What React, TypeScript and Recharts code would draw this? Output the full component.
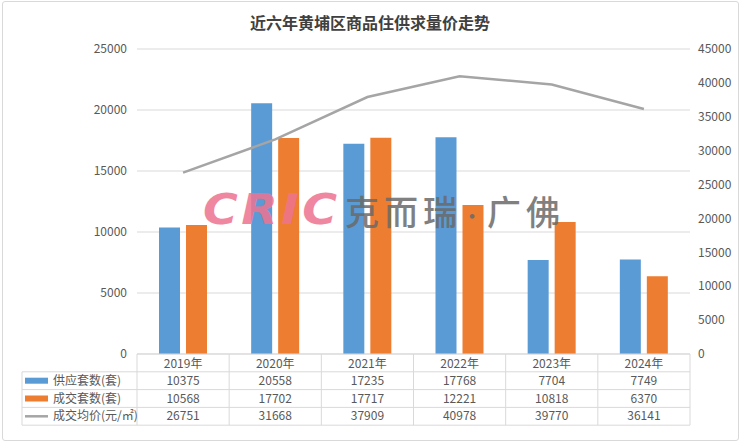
import { ComposedChart, Bar, Line, XAxis, YAxis, CartesianGrid } from "recharts";

const years = ["2019年", "2020年", "2021年", "2022年", "2023年", "2024年"];
const supply = [10375, 20558, 17235, 17768, 7704, 7749];
const deals = [10568, 17702, 17717, 12221, 10818, 6370];
const price = [26751, 31668, 37909, 40978, 39770, 36141];

const leftTicks = [0, 5000, 10000, 15000, 20000, 25000];
const rightTicks = [0, 5000, 10000, 15000, 20000, 25000, 30000, 35000, 40000, 45000];

const seriesNames = ["供应套数(套)", "成交套数(套)", "成交均价(元/㎡)"];
const seriesColors = ["#5B9BD5", "#ED7D31", "#A5A5A5"];

const W = 740;
const H = 442;
const PLOT_L = 137;
const PLOT_R = 690;
const PLOT_B = 354;
const ROW_H = 17.8;
const LEGEND_L = 22;
const FONT = "'Noto Sans CJK SC', 'Noto Sans', sans-serif";

const data = years.map((y, i) => ({
  year: y,
  supply: supply[i],
  deals: deals[i],
  price: price[i],
}));

function HeaderTick(props: any) {
  const { x, payload } = props;
  return (
    <text x={x} y={PLOT_B + 14} textAnchor="middle" fontSize={12} fill="#595959" fontFamily={FONT}>
      {payload.value}
    </text>
  );
}

function DataTable() {
  const colW = (PLOT_R - PLOT_L) / years.length;
  const rows = [supply, deals, price];
  const bottom = PLOT_B + ROW_H * 4;
  const lineColor = "#D9D9D9";
  return (
    <svg width={W} height={H} style={{ position: "absolute", left: 0, top: 0, pointerEvents: "none" }}>
      {/* column lines */}
      {years.map((_, i) => (
        <line key={"c" + i} x1={PLOT_L + colW * i} x2={PLOT_L + colW * i} y1={PLOT_B} y2={bottom} stroke={lineColor} />
      ))}
      <line x1={PLOT_R} x2={PLOT_R} y1={PLOT_B} y2={bottom} stroke={lineColor} />
      <line x1={LEGEND_L} x2={LEGEND_L} y1={PLOT_B + ROW_H} y2={bottom} stroke={lineColor} />
      {/* row lines */}
      {[1, 2, 3, 4].map((r) => (
        <line key={"r" + r} x1={LEGEND_L} x2={PLOT_R} y1={PLOT_B + ROW_H * r} y2={PLOT_B + ROW_H * r} stroke={lineColor} />
      ))}
      {rows.map((vals, r) => {
        const cy = PLOT_B + ROW_H * (r + 1) + ROW_H / 2;
        return (
          <g key={"row" + r}>
            {r < 2 ? (
              <rect x={25} y={cy - 3} width={23} height={6} fill={seriesColors[r]} />
            ) : (
              <line x1={25} x2={48} y1={cy} y2={cy} stroke={seriesColors[r]} strokeWidth={2.5} />
            )}
            <text x={53} y={cy + 4} fontSize={12} fill="#595959" fontFamily={FONT}>
              {seriesNames[r]}
            </text>
            {vals.map((v, i) => (
              <text key={i} x={PLOT_L + colW * (i + 0.5)} y={cy + 4} textAnchor="middle" fontSize={12} fill="#595959" fontFamily={FONT}>
                {v}
              </text>
            ))}
          </g>
        );
      })}
    </svg>
  );
}

export default function App() {
  return (
    <div
      style={{
        position: "absolute",
        left: 0,
        top: 0,
        width: W,
        height: H,
        background: "#fff",
        fontFamily: FONT,
      }}
    >
      <div
        style={{
          position: "absolute",
          left: 2,
          top: 1,
          width: W - 5,
          height: H - 4,
          border: "1px solid #D9D9D9",
          borderRadius: 3,
        }}
      />
      <div
        style={{
          position: "absolute",
          left: 0,
          top: 10,
          width: W,
          textAlign: "center",
          fontSize: 16,
          fontWeight: "bold",
          color: "#404040",
        }}
      >
        近六年黄埔区商品住供求量价走势
      </div>
      <ComposedChart
        width={W}
        height={H}
        data={data}
        margin={{ top: 49, right: 0, bottom: H - PLOT_B - 20, left: 0 }}
        barCategoryGap="24%"
        barGap={6}
        style={{ position: "absolute", left: 0, top: 0 }}
      >
        <CartesianGrid vertical={false} stroke="#D9D9D9" yAxisId="left" />
        <XAxis
          dataKey="year"
          height={20}
          tickLine={false}
          axisLine={{ stroke: "#D9D9D9" }}
          tick={<HeaderTick />}
          interval={0}
        />
        <YAxis
          yAxisId="left"
          width={PLOT_L}
          domain={[0, 25000]}
          ticks={leftTicks}
          axisLine={false}
          tickLine={false}
          tickMargin={4}
          tick={{ fontSize: 12, fill: "#595959", fontFamily: FONT }}
        />
        <YAxis
          yAxisId="right"
          orientation="right"
          width={W - PLOT_R}
          domain={[0, 45000]}
          ticks={rightTicks}
          axisLine={false}
          tickLine={false}
          tickMargin={2}
          tick={{ fontSize: 12, fill: "#595959", fontFamily: FONT }}
        />
        <Bar yAxisId="left" dataKey="supply" fill={seriesColors[0]} barSize={21} isAnimationActive={false} />
        <Bar yAxisId="left" dataKey="deals" fill={seriesColors[1]} barSize={21} isAnimationActive={false} />
        <Line
          yAxisId="right"
          dataKey="price"
          stroke={seriesColors[2]}
          strokeWidth={2.5}
          dot={false}
          type="linear"
          isAnimationActive={false}
        />
      </ComposedChart>
      <DataTable />
      <div
        style={{
          position: "absolute",
          left: 203,
          top: 185,
          fontSize: 42,
          fontWeight: 900,
          fontStyle: "italic",
          color: "#EE7390",
          opacity: 0.85,
          letterSpacing: 3,
          fontFamily: "'DejaVu Sans', sans-serif",
          pointerEvents: "none",
          lineHeight: "50px",
          transform: "scaleX(1.13)",
          transformOrigin: "left center",
        }}
      >
        CRIC
      </div>
      <div
        style={{
          position: "absolute",
          left: 345,
          top: 187,
          fontSize: 34,
          fontWeight: 500,
          color: "#6A6A6A",
          opacity: 0.85,
          letterSpacing: 5,
          pointerEvents: "none",
          lineHeight: "48px",
        }}
      >
        克而瑞<span style={{ fontSize: 20, verticalAlign: "middle" }}>·</span>广佛
      </div>
    </div>
  );
}
